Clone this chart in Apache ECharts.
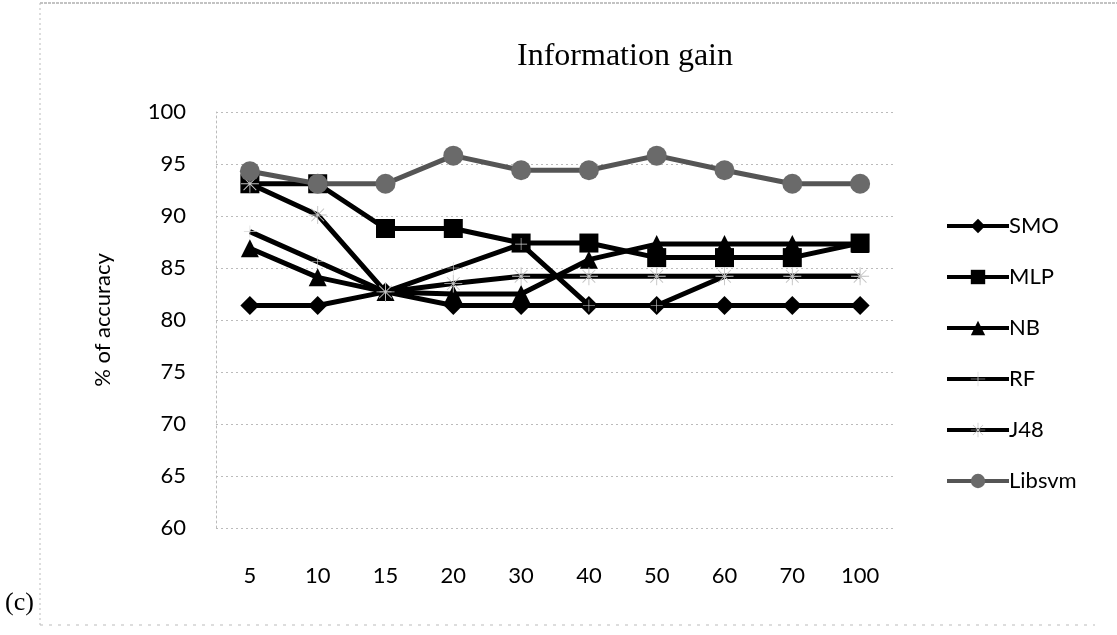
<!DOCTYPE html>
<html><head><meta charset="utf-8">
<script src="https://cdn.jsdelivr.net/npm/echarts@6/dist/echarts.min.js"></script>
<style>html,body{margin:0;padding:0;background:#fff}#c{width:1117px;height:635px}</style>
</head><body><div id="c"></div>
<script>
const categories = ['5','10','15','20','30','40','50','60','70','100'];
const SMO    = [81.4, 81.4, 82.7, 81.4, 81.4, 81.4, 81.4, 81.4, 81.4, 81.4];
const MLP    = [93.1, 93.1, 88.8, 88.8, 87.4, 87.4, 86.0, 86.0, 86.0, 87.4];
const NB     = [86.9, 84.1, 82.7, 82.5, 82.5, 85.8, 87.3, 87.3, 87.3, 87.3];
const RF     = [88.5, 85.6, 82.7, 85.0, 87.3, 81.4, 81.4, 84.2, 84.2, 84.2];
const J48    = [93.1, 90.1, 82.7, 83.5, 84.2, 84.2, 84.2, 84.2, 84.2, 84.2];
const Libsvm = [94.3, 93.1, 93.1, 95.8, 94.4, 94.4, 95.8, 94.4, 93.1, 93.1];
const yTicks = {min: 60, max: 100, interval: 5};

const asterisk = 'path://M9.5,0h1v20h-1z M0,9.5h20v1h-20z M2.6,3.3l0.7-0.7l14.1,14.1l-0.7,0.7z M16.7,2.6l0.7,0.7l-14.1,14.1l-0.7-0.7z';
const plus = 'path://M9.5,0h1v20h-1z M0,9.5h20v1h-20z';
const sansFont = 'Lato';

function mk(name, data, symbol, size, lineColor, symColor) {
  return {
    name, type: 'line', data, symbol, symbolSize: size,
    lineStyle: {color: lineColor, width: 5},
    itemStyle: {color: symColor, borderWidth: 0},
    emphasis: {disabled: true}, animation: false, z: 2
  };
}

const chart = echarts.init(document.getElementById('c'), null, {renderer: 'canvas'});
chart.setOption({
  backgroundColor: '#fff',
  animation: false,
  title: {
    text: 'Information gain', left: 620, top: 36, textAlign: 'center',
    textStyle: {fontFamily: 'Liberation Serif', fontWeight: 'normal', fontSize: 32, color: '#000'}
  },
  graphic: [
    {type: 'line', shape: {x1: 40, y1: 3, x2: 1117, y2: 3}, style: {stroke: '#888', lineWidth: 1.2, lineDash: [3, 1]}},
    {type: 'line', shape: {x1: 40, y1: 3, x2: 40, y2: 625}, style: {stroke: '#bbb', lineWidth: 1, lineDash: [2, 3]}},
    {type: 'line', shape: {x1: 40, y1: 625, x2: 1095, y2: 625}, style: {stroke: '#bbb', lineWidth: 1, lineDash: [3, 6]}},
    {type: 'text', left: 5, top: 590, style: {text: '(c)', font: '26px "Liberation Serif"', fill: '#000'}}
  ],
  legend: {
    orient: 'vertical', left: 940, top: 210, itemWidth: 62, itemHeight: 18, itemGap: 29,
    lineStyle: {width: 4},
    textStyle: {fontFamily: sansFont, fontSize: 22, color: '#000', lineHeight: 21, padding: [0, 0, 0, -5]},
    data: ['SMO', 'MLP', 'NB', 'RF', 'J48', 'Libsvm']
  },
  grid: {left: 216, right: 223, top: 112, bottom: 107},
  xAxis: {
    type: 'category', data: categories, boundaryGap: true,
    axisLine: {show: false}, axisTick: {show: false},
    axisLabel: {margin: 37, fontFamily: sansFont, fontSize: 22, color: '#000'}
  },
  yAxis: {
    type: 'value', min: yTicks.min, max: yTicks.max, interval: yTicks.interval,
    name: '% of accuracy', nameLocation: 'middle', nameGap: 102, nameRotate: 90,
    nameTextStyle: {fontFamily: sansFont, fontSize: 22, color: '#000'},
    axisLine: {show: true, lineStyle: {color: '#bbb', type: [2, 3]}},
    axisTick: {show: false},
    axisLabel: {margin: 30, fontFamily: sansFont, fontSize: 22, color: '#000'},
    splitLine: {show: true, lineStyle: {color: '#bbb', type: [2, 3], width: 1}}
  },
  series: [
    mk('SMO', SMO, 'diamond', 19, '#000', '#000'),
    mk('MLP', MLP, 'rect', 19, '#000', '#000'),
    mk('NB', NB, 'triangle', 18, '#000', '#000'),
    mk('RF', RF, plus, 12, '#000', '#d8d8d8'),
    mk('J48', J48, asterisk, 18, '#000', '#c4c4c4'),
    mk('Libsvm', Libsvm, 'circle', 20, '#555', '#6a6a6a')
  ]
});
</script></body></html>
